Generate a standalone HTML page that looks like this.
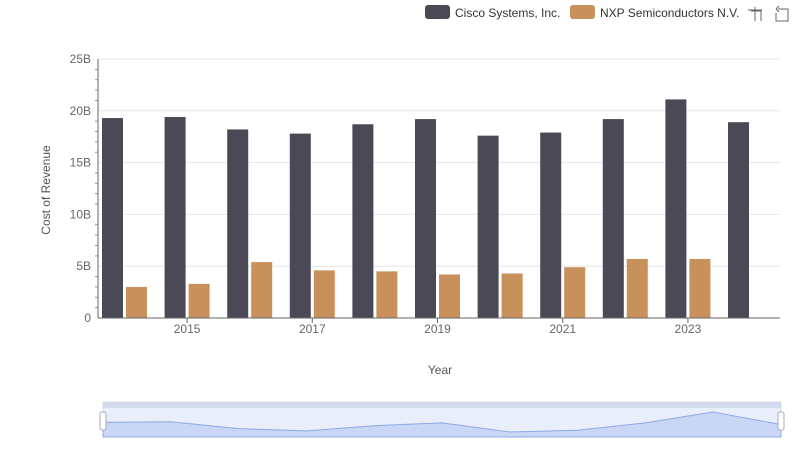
<!DOCTYPE html>
<html><head><meta charset="utf-8"><style>
body{margin:0;background:#fff;font-family:"Liberation Sans",sans-serif;}
svg text{font-family:"Liberation Sans",sans-serif;}
</style></head><body>
<svg id="c" width="800" height="461">
<g id="legend">
<rect x="425" y="5" width="25" height="14" rx="3" fill="#4a4955"/>
<text x="455" y="17" font-size="12" fill="#333">Cisco Systems, Inc.</text>
<rect x="570" y="5" width="25" height="14" rx="3" fill="#c8915c"/>
<text x="600" y="17" font-size="12" fill="#333">NXP Semiconductors N.V.</text>
<g stroke="#666" fill="none"><path d="M748 10h14M755 7v14M751 11h10v10"/></g>
<g stroke="#666" fill="none"><path d="M778 9h10v12h-12v-8M776 9l3-3M776 9l3 3"/></g>
</g>
<g id="grid"></g>
<g id="bars"></g>
<g id="axes"></g>
<text x="50" y="190" font-size="12" fill="#555" text-anchor="middle" transform="rotate(-90 50 190)">Cost of Revenue</text>
<text x="440" y="374" font-size="12" fill="#555" text-anchor="middle">Year</text>
<g>
<rect x="103" y="402" width="678" height="35" fill="#e9eefa" stroke="#d2dbee"/>
<rect x="103" y="402" width="678" height="6" fill="#d2dbee"/>
<path id="mini" fill="#c9d6f6" stroke="#8fa9e6" stroke-width="1"/>
<rect x="100" y="412" width="6" height="18" rx="2" fill="#fff" stroke="#aab"/>
<rect x="778" y="412" width="6" height="18" rx="2" fill="#fff" stroke="#aab"/>
</g>
</svg>
<script>
const years=["2014","2015","2016","2017","2018","2019","2020","2021","2022","2023","2024"];
const cisco=[19.3,19.4,18.2,17.8,18.7,19.2,17.6,17.9,19.2,21.1,18.9];
const nxp=[3.0,3.3,5.4,4.6,4.5,4.2,4.3,4.9,5.7,5.7,null];
const yTicks=[0,5,10,15,20,25];
const NS="http://www.w3.org/2000/svg";
function mk(t,a,p){const e=document.createElementNS(NS,t);for(const k in a)e.setAttribute(k,a[k]);p.appendChild(e);return e;}
const y=v=>318-v*(259/25);
const xc=i=>124.5+i*62.6;
const grid=document.getElementById('grid'),bars=document.getElementById('bars'),axes=document.getElementById('axes');
yTicks.forEach(t=>{
 if(t>0){const l=mk('line',{x1:98,x2:780,y1:y(t),y2:y(t),stroke:'#e6e6e6'},grid);
 
 }
 const tx=mk('text',{x:91,y:y(t)+4,'font-size':12,fill:'#666','text-anchor':'end'},axes);tx.textContent=t===0?'0':t+'B';
 
 
});
for(let v=0;v<25;v+=1){if(v%5)mk('line',{x1:95,x2:98,y1:y(v),y2:y(v),stroke:'#999'},axes);}
mk('line',{x1:98,x2:98,y1:59,y2:318,stroke:'#666'},axes);
mk('line',{x1:98,x2:780,y1:318,y2:318,stroke:'#666'},axes);
years.forEach((yr,i)=>{
 if(cisco[i]!=null){const r=mk('rect',{x:xc(i)-22.5,y:y(cisco[i]),width:21,height:318-y(cisco[i]),fill:'#4a4955'},bars);
 
 }
 if(nxp[i]!=null){const r=mk('rect',{x:xc(i)+1.5,y:y(nxp[i]),width:21,height:318-y(nxp[i]),fill:'#c8915c'},bars);
 
 }
 if(i%2===1){mk('line',{x1:xc(i),x2:xc(i),y1:318,y2:323,stroke:'#666'},axes);
 const t=mk('text',{x:xc(i),y:333,'font-size':12,fill:'#666','text-anchor':'middle'},axes);t.textContent=yr;
 
 }
});
const mn=Math.min(...cisco),mx=Math.max(...cisco);
let d='M103 437';
cisco.forEach((v,i)=>{d+=' L'+(103+i*67.8)+' '+(432-(v-mn)/(mx-mn)*20);});
d+=' L781 437Z';
document.getElementById('mini').setAttribute('d',d);
</script>
</body></html>
